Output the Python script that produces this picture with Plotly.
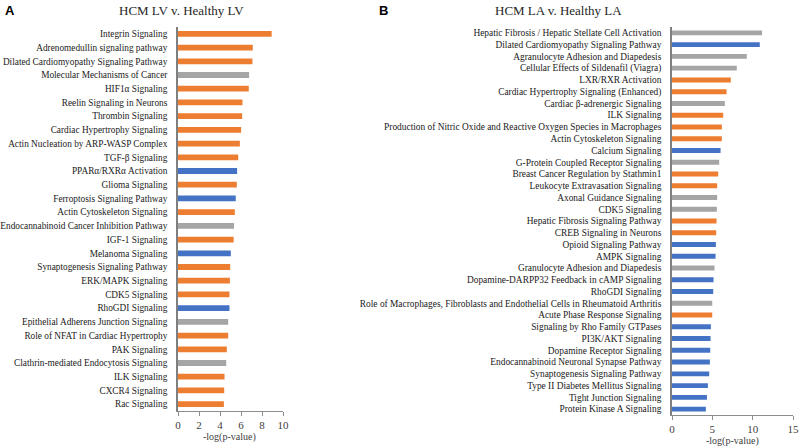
import plotly.graph_objects as go

# ---------------- data ----------------
left_labels = [
    "Integrin Signaling", "Adrenomedullin signaling pathway",
    "Dilated Cardiomyopathy Signaling Pathway", "Molecular Mechanisms of Cancer",
    "HIF1α Signaling", "Reelin Signaling in Neurons", "Thrombin Signaling",
    "Cardiac Hypertrophy Signaling", "Actin Nucleation by ARP-WASP Complex",
    "TGF-β Signaling", "PPARα/RXRα Activation", "Glioma Signaling",
    "Ferroptosis Signaling Pathway", "Actin Cytoskeleton Signaling",
    "Endocannabinoid Cancer Inhibition Pathway", "IGF-1 Signaling",
    "Melanoma Signaling", "Synaptogenesis Signaling Pathway", "ERK/MAPK Signaling",
    "CDK5 Signaling", "RhoGDI Signaling", "Epithelial Adherens Junction Signaling",
    "Role of NFAT in Cardiac Hypertrophy", "PAK Signaling",
    "Clathrin-mediated Endocytosis Signaling", "ILK Signaling", "CXCR4 Signaling",
    "Rac Signaling",
]
left_values = [8.92, 7.12, 7.09, 6.77, 6.74, 6.14, 6.11, 6.01, 5.89, 5.73, 5.63,
               5.60, 5.50, 5.41, 5.33, 5.30, 5.03, 4.97, 4.94, 4.90, 4.90, 4.78,
               4.78, 4.65, 4.59, 4.43, 4.40, 4.37]
left_groups = ["up", "up", "up", "na", "up", "up", "up", "up", "up", "up", "down",
               "up", "down", "up", "na", "up", "down", "up", "up", "up", "down",
               "na", "up", "up", "na", "up", "up", "up"]

right_labels = [
    "Hepatic Fibrosis / Hepatic Stellate Cell Activation",
    "Dilated Cardiomyopathy Signaling Pathway", "Agranulocyte Adhesion and Diapedesis",
    "Cellular Effects of Sildenafil (Viagra)", "LXR/RXR Activation",
    "Cardiac Hypertrophy Signaling (Enhanced)", "Cardiac β-adrenergic Signaling",
    "ILK Signaling", "Production of Nitric Oxide and Reactive Oxygen Species in Macrophages",
    "Actin Cytoskeleton Signaling", "Calcium Signaling",
    "G-Protein Coupled Receptor Signaling", "Breast Cancer Regulation by Stathmin1",
    "Leukocyte Extravasation Signaling", "Axonal Guidance Signaling", "CDK5 Signaling",
    "Hepatic Fibrosis Signaling Pathway", "CREB Signaling in Neurons",
    "Opioid Signaling Pathway", "AMPK Signaling", "Granulocyte Adhesion and Diapedesis",
    "Dopamine-DARPP32 Feedback in cAMP Signaling", "RhoGDI Signaling",
    "Role of Macrophages, Fibroblasts and Endothelial Cells in Rheumatoid Arthritis",
    "Acute Phase Response Signaling", "Signaling by Rho Family GTPases",
    "PI3K/AKT Signaling", "Dopamine Receptor Signaling",
    "Endocannabinoid Neuronal Synapse Pathway", "Synaptogenesis Signaling Pathway",
    "Type II Diabetes Mellitus Signaling", "Tight Junction Signaling",
    "Protein Kinase A Signaling",
]
right_values = [11.17, 10.88, 9.27, 8.03, 7.29, 6.76, 6.55, 6.35, 6.18, 6.18, 6.02,
                5.85, 5.73, 5.60, 5.60, 5.56, 5.52, 5.48, 5.44, 5.40, 5.27, 5.15,
                5.11, 4.99, 4.99, 4.82, 4.78, 4.74, 4.70, 4.61, 4.45, 4.33, 4.20]
right_groups = ["na", "down", "na", "na", "up", "up", "na", "up", "up", "up", "down",
                "na", "up", "up", "na", "na", "up", "up", "down", "down", "na", "down",
                "down", "na", "up", "down", "down", "down", "down", "down", "down",
                "down", "down"]

left_ticks = [0, 2, 4, 6, 8, 10]
right_ticks = [0, 5, 10, 15]

group_colors = {"up": "#ED7D31", "down": "#4472C4", "na": "#A5A5A5"}

W, H = 800, 448
FONT = "Liberation Serif, Times New Roman, serif"

fig = go.Figure()
fig.add_trace(go.Bar(
    x=left_values, y=left_labels, orientation="h",
    marker=dict(color=[group_colors[g] for g in left_groups], line=dict(width=0)),
    xaxis="x", yaxis="y", showlegend=False, width=0.42,
))
fig.add_trace(go.Bar(
    x=right_values, y=right_labels, orientation="h",
    marker=dict(color=[group_colors[g] for g in right_groups], line=dict(width=0)),
    xaxis="x2", yaxis="y2", showlegend=False, width=0.42,
))

def px_x(p):
    return p / W

def px_y(p):
    return 1 - p / H

axis_common = dict(
    showline=True, linecolor="#8c8c8c", linewidth=1.3,
    ticks="outside", ticklen=4, tickcolor="#8c8c8c",
    showgrid=False, zeroline=False, automargin=False,
    tickfont=dict(family=FONT, size=11, color="#404040"),
)

fig.update_layout(
    width=W, height=H,
    margin=dict(l=0, r=0, t=0, b=0, autoexpand=False),
    paper_bgcolor="white", plot_bgcolor="white",
    bargap=0.6,
    xaxis=dict(domain=[px_x(178), px_x(283)], range=[0, 10], tickvals=left_ticks,
               anchor="y", **axis_common),
    yaxis=dict(domain=[px_y(411), px_y(27)], autorange="reversed",
               showline=True, linecolor="#7f7f7f", linewidth=1.5, ticks="",
               showgrid=False, anchor="x", ticklabelstandoff=7, automargin=False,
               tickfont=dict(family=FONT, size=9.3, color="#1a1a1a")),
    xaxis2=dict(domain=[px_x(672), px_x(793)], range=[0, 15], tickvals=right_ticks,
                anchor="y2", **axis_common),
    yaxis2=dict(domain=[px_y(415), px_y(27)], autorange="reversed",
                showline=True, linecolor="#7f7f7f", linewidth=1.5, ticks="",
                showgrid=False, anchor="x2", ticklabelstandoff=7, automargin=False,
                tickfont=dict(family=FONT, size=9.4, color="#1a1a1a")),
    font=dict(family=FONT),
)

annos = [
    dict(text="<b>A</b>", x=px_x(3), y=px_y(10), font=dict(family="Arial, Liberation Sans, sans-serif", size=13, color="black"), xanchor="left"),
    dict(text="<b>B</b>", x=px_x(377), y=px_y(11), font=dict(family="Arial, Liberation Sans, sans-serif", size=13, color="black"), xanchor="left"),
    dict(text="HCM LV v. Healthy LV", x=px_x(181), y=px_y(10), font=dict(family=FONT, size=13, color="#262626")),
    dict(text="HCM LA v. Healthy LA", x=px_x(558), y=px_y(11), font=dict(family=FONT, size=13, color="#262626")),
    dict(text="-log(p-value)", x=px_x(230), y=px_y(437), font=dict(family=FONT, size=10, color="#404040")),
    dict(text="-log(p-value)", x=px_x(732), y=px_y(441), font=dict(family=FONT, size=10, color="#404040")),
]
for a in annos:
    a.setdefault("xanchor", "center")
    fig.add_annotation(xref="paper", yref="paper", showarrow=False, yanchor="middle", **a)

fig.write_html("out.html", config={"displayModeBar": False},
               post_script="document.body.style.margin='0';document.body.style.padding='0';")
